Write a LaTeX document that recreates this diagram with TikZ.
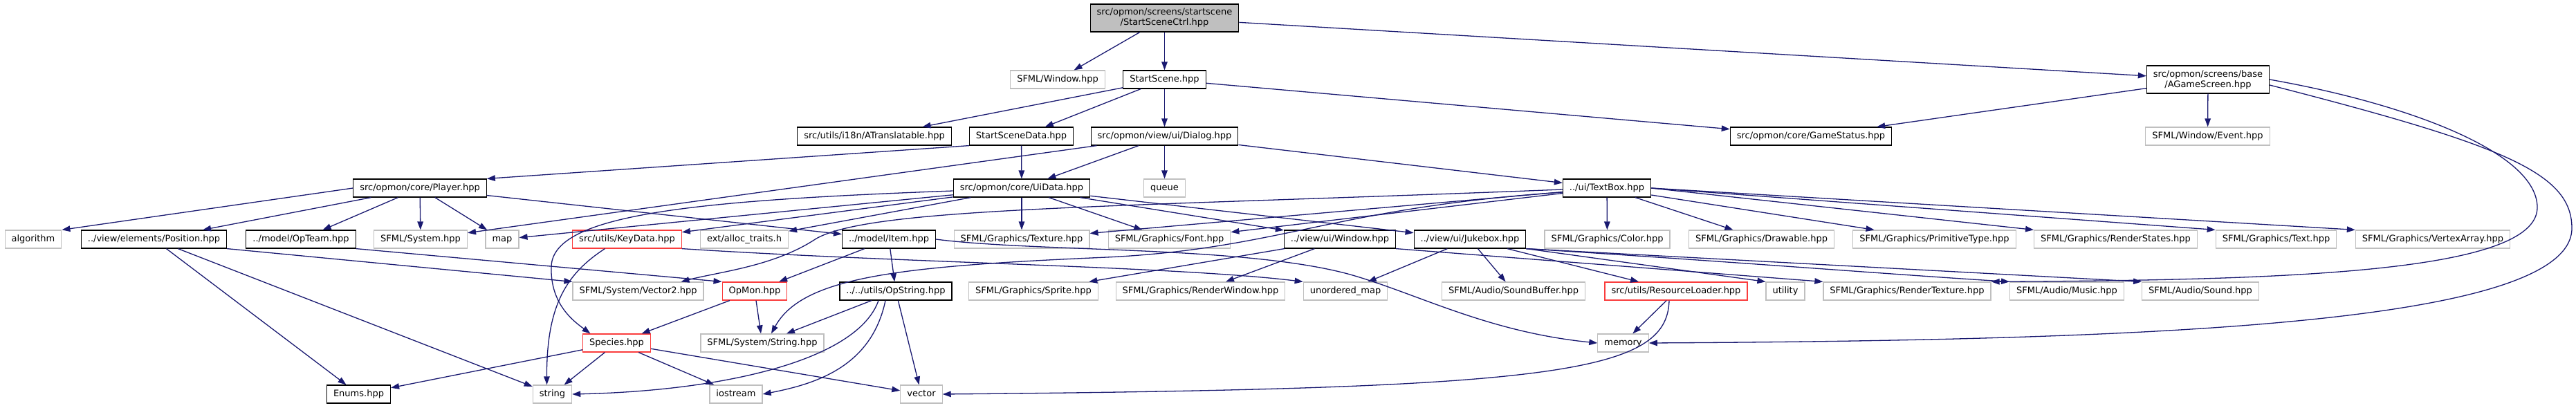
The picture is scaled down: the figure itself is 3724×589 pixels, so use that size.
\documentclass[tikz,border=0pt]{standalone}
\usepackage{fontspec}
\setmainfont{DejaVu Sans}
\usepackage{xcolor}
\usepackage{tikz}
\usetikzlibrary{arrows.meta}
\definecolor{depblue}{RGB}{25,25,112}
\definecolor{filegrey}{RGB}{191,191,191}
\definecolor{missred}{RGB}{250,60,60}

\tikzset{
  filebase/.style={rectangle, line width=1.2pt, inner xsep=9.5pt, inner ysep=0pt, font=\fontsize{13pt}{15pt}\selectfont},
  hdr/.style={filebase, draw=black, fill=white, minimum height=26pt, text height=10pt, text depth=3pt},
  syshdr/.style={hdr, draw=filegrey},
  redhdr/.style={hdr, draw=missred},
  twoline/.style={filebase, draw=black, fill=white, align=center, minimum height=40pt},
  dep/.style={->, depblue, line width=1.3pt}
}

\begin{document}
\begin{tikzpicture}[x=1pt, y=-1pt, >={Triangle[length=12pt,width=8.5pt]}]
    \useasboundingbox (0,0) rectangle (3724,589);
    % files, row by row
    \node [twoline, fill=filegrey] (ctrl) at (1683.5,26) {src/opmon/screens/startscene\\/StartSceneCtrl.hpp};

    \node [syshdr] (sfwindow) at (1529,115) {SFML/Window.hpp};
    \node [hdr] (scene) at (1683.5,115) {StartScene.hpp};
    \node [twoline] (agame) at (3192,115) {src/opmon/screens/base\\/AGameScreen.hpp};

    \node [hdr] (translatable) at (1264,197) {src/utils/i18n/ATranslatable.hpp};
    \node [hdr] (scenedata) at (1476.5,197) {StartSceneData.hpp};
    \node [hdr] (dialog) at (1683.5,197) {src/opmon/view/ui/Dialog.hpp};
    \node [hdr] (gamestatus) at (2618,197) {src/opmon/core/GameStatus.hpp};
    \node [syshdr] (event) at (3191.5,197) {SFML/Window/Event.hpp};

    \node [hdr] (player) at (607,272) {src/opmon/core/Player.hpp};
    \node [hdr] (uidata) at (1477,272) {src/opmon/core/UiData.hpp};
    \node [syshdr] (queue) at (1683.5,272) {queue};
    \node [hdr] (textbox) at (2323,272) {../ui/TextBox.hpp};

    \node [syshdr] (algorithm) at (48,346) {algorithm};
    \node [hdr] (position) at (222.5,346) {../view/elements/Position.hpp};
    \node [hdr] (opteam) at (435,346) {../model/OpTeam.hpp};
    \node [syshdr] (system) at (608,346) {SFML/System.hpp};
    \node [syshdr] (stdmap) at (726,346) {map};
    \node [redhdr] (keydata) at (906.5,346) {src/utils/KeyData.hpp};
    \node [syshdr] (alloctraits) at (1076,346) {ext/alloc\_traits.h};
    \node [hdr] (item) at (1285,346) {../model/Item.hpp};
    \node [syshdr] (texture) at (1477,346) {SFML/Graphics/Texture.hpp};
    \node [syshdr] (gfont) at (1690.5,346) {SFML/Graphics/Font.hpp};
    \node [hdr] (window) at (1937,346) {../view/ui/Window.hpp};
    \node [hdr] (jukebox) at (2125,346) {../view/ui/Jukebox.hpp};
    \node [syshdr] (gcolor) at (2323.5,346) {SFML/Graphics/Color.hpp};
    \node [syshdr] (drawable) at (2546.5,346) {SFML/Graphics/Drawable.hpp};
    \node [syshdr] (primtype) at (2796.5,346) {SFML/Graphics/PrimitiveType.hpp};
    \node [syshdr] (states) at (3058.5,346) {SFML/Graphics/RenderStates.hpp};
    \node [syshdr] (gtext) at (3290.5,346) {SFML/Graphics/Text.hpp};
    \node [syshdr] (vertexarray) at (3517,346) {SFML/Graphics/VertexArray.hpp};

    \node [syshdr] (vector2) at (922.5,421) {SFML/System/Vector2.hpp};
    \node [redhdr] (opmon) at (1091,421) {OpMon.hpp};
    \node [hdr] (opstring) at (1295,421) {../../utils/OpString.hpp};
    \node [syshdr] (sprite) at (1494,421) {SFML/Graphics/Sprite.hpp};
    \node [syshdr] (renderwindow) at (1735.5,421) {SFML/Graphics/RenderWindow.hpp};
    \node [syshdr] (umap) at (1945,421) {unordered\_map};
    \node [syshdr] (soundbuffer) at (2188,421) {SFML/Audio/SoundBuffer.hpp};
    \node [redhdr] (loader) at (2423,421) {src/utils/ResourceLoader.hpp};
    \node [syshdr] (utility) at (2581,421) {utility};
    \node [syshdr] (rendertexture) at (2757,421) {SFML/Graphics/RenderTexture.hpp};
    \node [syshdr] (music) at (2988,421) {SFML/Audio/Music.hpp};
    \node [syshdr] (sound) at (3181,421) {SFML/Audio/Sound.hpp};

    \node [redhdr] (species) at (891.5,496) {Species.hpp};
    \node [syshdr] (sysstring) at (1102,496) {SFML/System/String.hpp};
    \node [syshdr] (memory) at (2346.5,496) {memory};

    \node [hdr] (enums) at (518.5,570) {Enums.hpp};
    \node [syshdr] (stdstring) at (798.5,570) {string};
    \node [syshdr] (iostream) at (1064,570) {iostream};
    \node [syshdr] (stdvector) at (1332,570) {vector};

    % includes
    \draw [dep] (ctrl) -- (sfwindow);
    \draw [dep] (ctrl) -- (scene);
    \draw [dep] (ctrl) -- (agame);

    \draw [dep] (scene) -- (translatable);
    \draw [dep] (scene) -- (scenedata);
    \draw [dep] (scene) -- (dialog);
    \draw [dep] (scene) -- (gamestatus);

    \draw [dep] (agame) -- (gamestatus);
    \draw [dep] (agame) -- (event);
    \draw [dep] (agame.east) .. controls (3480,150) and (3668,220) .. (3668,300) .. controls (3668,395) and (3300,405) .. (rendertexture.north east);
    \draw [dep] ([yshift=-8pt]agame.east) .. controls (3620,210) and (3718,250) .. (3718,330) .. controls (3718,470) and (3100,492) .. (memory.east);

    \draw [dep] (scenedata.south west) -- (player.north east);
    \draw [dep] (scenedata) -- (uidata);

    \draw [dep] (dialog) -- (uidata);
    \draw [dep] (dialog) -- (queue);
    \draw [dep] (dialog) -- (textbox);
    \draw [dep] (dialog) -- (system);

    \draw [dep] (player.west) -- (algorithm.north east);
    \draw [dep] (player) -- (position);
    \draw [dep] (player) -- (opteam);
    \draw [dep] (player) -- (system);
    \draw [dep] (player) -- (stdmap);
    \draw [dep] (player) -- (item);

    \draw [dep] (uidata) -- (texture);
    \draw [dep] (uidata) -- (gfont);
    \draw [dep] (uidata) -- (window);
    \draw [dep] (uidata) -- (jukebox);
    \draw [dep] (uidata) -- (keydata);
    \draw [dep] (uidata) -- (alloctraits);
    \draw [dep] (uidata) -- (stdmap);
    \draw [dep] ([yshift=-4pt]uidata.west) .. controls (1000,290) and (800,310) .. (797,385) .. controls (795,440) and (830,465) .. ([xshift=-38pt]species.north);

    \draw [dep] (textbox) -- (gcolor);
    \draw [dep] (textbox) -- (drawable);
    \draw [dep] (textbox) -- (primtype);
    \draw [dep] (textbox.east) -- (states.north west);
    \draw [dep] (textbox.east) -- (gtext.north west);
    \draw [dep] (textbox.east) -- (vertexarray.north west);
    \draw [dep] (textbox) -- (gfont);
    \draw [dep] (textbox) -- (texture);
    \draw [dep] ([yshift=-2pt]textbox.west) .. controls (1600,300) and (1260,300) .. (1180,345) .. controls (1120,385) and (1040,393) .. ([xshift=62pt]vector2.north);
    \draw [dep] ([yshift=-6pt]textbox.west) .. controls (1930,300) and (1850,360) .. (1600,372) .. controls (1300,385) and (1160,400) .. ([xshift=13pt]sysstring.north);

    \draw [dep] (position.south east) -- (vector2.north west);
    \draw [dep] (position) -- (enums);
    \draw [dep] (position) -- (stdstring);
    \draw [dep] (opteam.south east) -- (opmon.north west);

    \draw [dep] ([xshift=-32pt]keydata.south) .. controls (820,395) and (790,440) .. ([xshift=-8pt]stdstring.north);
    \draw [dep] (keydata.south east) .. controls (1300,380) and (1700,385) .. (umap.north west);

    \draw [dep] (item) -- (opmon);
    \draw [dep] (item) -- (opstring);
    \draw [dep] (item.east) .. controls (1500,365) and (1800,355) .. (1952,397) .. controls (2050,425) and (2150,480) .. (memory.west);

    \draw [dep] (window) -- (sprite);
    \draw [dep] (window) -- (renderwindow);
    \draw [dep] (window.south east) -- (rendertexture.north west);

    \draw [dep] (jukebox) -- (umap);
    \draw [dep] (jukebox) -- (soundbuffer);
    \draw [dep] (jukebox) -- (loader);
    \draw [dep] (jukebox.south east) -- (utility.north west);
    \draw [dep] (jukebox.south east) .. controls (2500,378) and (2750,398) .. (music.north west);
    \draw [dep] (jukebox.south east) -- (sound.north west);

    \draw [dep] (opmon) -- (species);
    \draw [dep] (opmon) -- (sysstring);
    \draw [dep] (opstring) -- (sysstring);
    \draw [dep] (opstring) -- (stdvector);
    \draw [dep] ([xshift=-25pt]opstring.south) .. controls (1240,520) and (1050,565) .. (stdstring.east);
    \draw [dep] ([xshift=-15pt]opstring.south) .. controls (1260,530) and (1180,555) .. (iostream.east);

    \draw [dep] (loader) -- (memory);
    \draw [dep] ([xshift=-10pt]loader.south) .. controls (2410,540) and (2250,562) .. (stdvector.east);

    \draw [dep] (species) -- (enums);
    \draw [dep] (species) -- (stdstring);
    \draw [dep] (species) -- (iostream);
    \draw [dep] (species) -- (stdvector);
\end{tikzpicture}
\end{document}
